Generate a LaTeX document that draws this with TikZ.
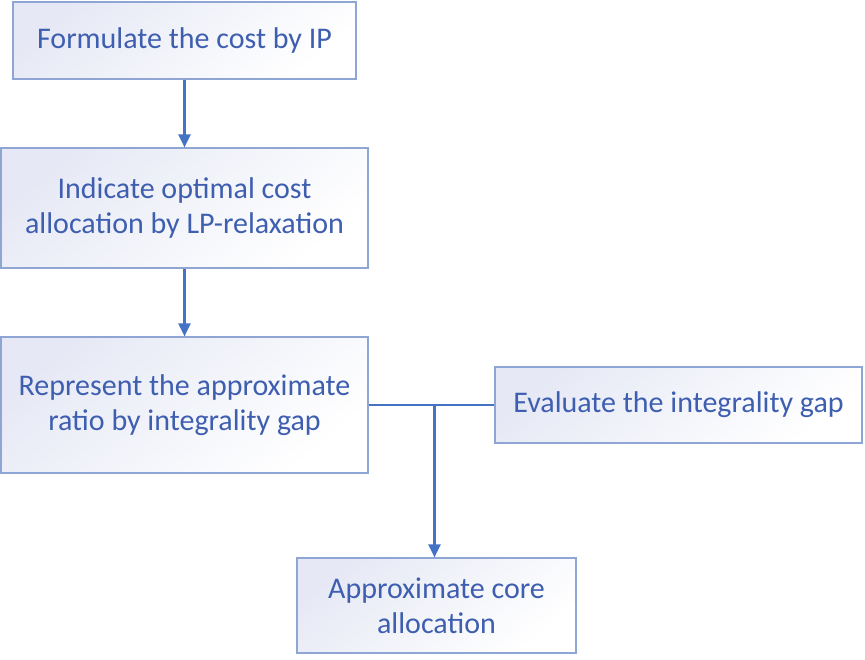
\documentclass[tikz,border=0pt]{standalone}
\usepackage{fontspec}
\setmainfont{Carlito}
\usetikzlibrary{arrows.meta}
\definecolor{txt}{RGB}{62,94,176}
\definecolor{bord}{RGB}{143,166,212}
\definecolor{arr}{RGB}{68,114,196}
\definecolor{lav}{RGB}{230,233,245}
\tikzset{
  boxs/.style={draw=bord, line width=1.2pt, top color=lav, bottom color=white, shading angle=40,
    text=txt, font=\fontsize{30}{35}\selectfont, align=center, inner sep=0pt},
  conn/.style={draw=arr, line width=2.2pt},
  arrowc/.style={conn, -{Triangle[length=13pt,width=12pt]}}
}
\begin{document}
\begin{tikzpicture}[x=1pt,y=-1pt]
\useasboundingbox (0,0) rectangle (865,659);
\node[boxs, minimum width=343pt, minimum height=77pt] (b1) at (184.5,40.5) {Formulate the cost by IP};
\node[boxs, minimum width=367pt, minimum height=120pt] (b2) at (184.5,208) {Indicate optimal cost\\allocation by LP-relaxation};
\node[boxs, minimum width=367pt, minimum height=136pt] (b3) at (184.5,405) {Represent the approximate\\ratio by integrality gap};
\node[boxs, minimum width=367pt, minimum height=76pt] (b4) at (678.5,405) {Evaluate the integrality gap};
\node[boxs, minimum width=279pt, minimum height=95pt] (b5) at (436.5,605.5) {Approximate core\\allocation};
\coordinate (j) at (434.5,405);
\draw[arrowc] (b1.south) -- (b2.north);
\draw[arrowc] (b2.south) -- (b3.north);
\draw[conn] (b3.east) -- (b4.west);
\draw[arrowc] (j) -- (j |- b5.north);
\end{tikzpicture}
\end{document}
